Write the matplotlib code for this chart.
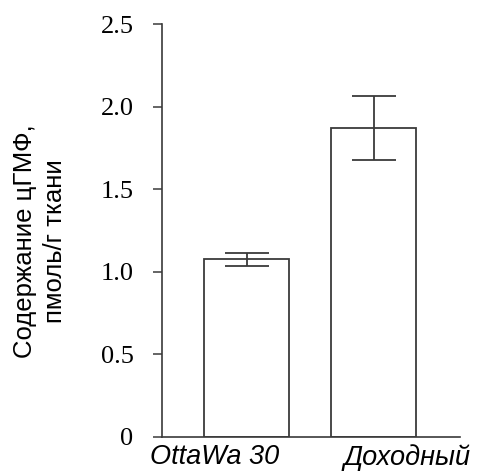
import matplotlib
matplotlib.use('Agg')
import matplotlib.pyplot as plt
from matplotlib.transforms import ScaledTranslation

# données
categories = ['OttaWa 30', 'Доходный']
valeurs = [1.075, 1.872]
erreurs = [0.037, 0.195]
yticks = [0, 0.5, 1.0, 1.5, 2.0, 2.5]
ytick_labels = ['0', '0.5', '1.0', '1.5', '2.0', '2.5']

couleur = '#3a3a3a'

fig = plt.figure(figsize=(4.79, 4.72), dpi=100)
ax = fig.add_axes([0.338, 0.0745, 0.622, 0.874])

x = list(range(len(categories)))
ax.bar(x, valeurs, width=0.67, color='white', edgecolor=couleur, linewidth=1.3,
       yerr=erreurs, capsize=15.5,
       error_kw=dict(ecolor=couleur, elinewidth=1.3, capthick=1.3))

ax.set_xlim(-0.668, 1.677)
ax.set_ylim(0, 2.5)

ax.spines['top'].set_visible(False)
ax.spines['right'].set_visible(False)
for s in ['left', 'bottom']:
    ax.spines[s].set_color(couleur)
    ax.spines[s].set_linewidth(1.2)

ax.set_yticks(yticks)
ax.set_yticklabels(ytick_labels, family='Liberation Serif', fontsize=19)
ax.tick_params(axis='y', direction='out', length=6.5, width=1.1, color=couleur, pad=14)

ax.set_xticks(x)
ax.set_xticklabels(categories, family='Liberation Sans', style='italic', fontsize=19.5)
ax.tick_params(axis='x', length=0, pad=5.5)
# les étiquettes ne sont pas centrées sous les barres
decalages = [-0.32, 0.33]
for lab, dx in zip(ax.get_xticklabels(), decalages):
    lab.set_transform(lab.get_transform() + ScaledTranslation(dx, 0, fig.dpi_scale_trans))

ax.set_ylabel('Содержание цГМФ,\nпмоль/г ткани', family='Liberation Sans',
              fontsize=18.5, linespacing=1.35)
ax.yaxis.set_label_coords(-0.318, 0.475)

fig.savefig('out.png', dpi=100)
